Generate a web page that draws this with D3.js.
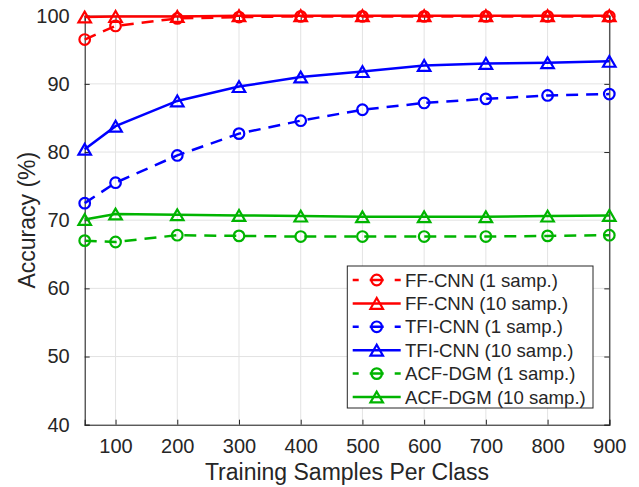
<!doctype html>
<html lang="en">
  <head>
    <meta charset="utf-8">
    <title>Accuracy vs training samples</title>
    <style>
      body { margin: 0; background: #fff; }
      text { font-family: "Liberation Sans", Arial, sans-serif; fill: #262626; }
    </style>
  </head>
  <body>
    <div id="chart"></div>

    <script src="https://d3js.org/d3.v7.min.js"></script>
    <script type="text/javascript">
      // data
      const samples = [50, 100, 200, 300, 400, 500, 600, 700, 800, 900];
      const ffcnn1  = [96.5, 98.5, 99.6, 99.8, 99.9, 99.9, 99.9, 99.9, 99.9, 99.9];
      const ffcnn10 = [99.8, 99.9, 99.9, 100, 100, 100, 100, 100, 100, 100];
      const tfi1    = [72.5, 75.5, 79.5, 82.7, 84.6, 86.2, 87.2, 87.8, 88.3, 88.5];
      const tfi10   = [80.4, 83.8, 87.5, 89.6, 91.0, 91.8, 92.7, 93.0, 93.1, 93.3];
      const acf1    = [67.0, 66.8, 67.8, 67.7, 67.6, 67.6, 67.6, 67.6, 67.7, 67.8];
      const acf10   = [70.1, 70.9, 70.8, 70.7, 70.6, 70.5, 70.5, 70.5, 70.6, 70.7];
      const xTicks = [100, 200, 300, 400, 500, 600, 700, 800, 900];
      const yTicks = [40, 50, 60, 70, 80, 90, 100];

      const series = [
        {name: 'FF-CNN (1 samp.)',   vals: ffcnn1,  color: '#ff0000', dashed: true,  mark: 'circle'},
        {name: 'FF-CNN (10 samp.)',  vals: ffcnn10, color: '#ff0000', dashed: false, mark: 'tri'},
        {name: 'TFI-CNN (1 samp.)',  vals: tfi1,    color: '#0000ff', dashed: true,  mark: 'circle'},
        {name: 'TFI-CNN (10 samp.)', vals: tfi10,   color: '#0000ff', dashed: false, mark: 'tri'},
        {name: 'ACF-DGM (1 samp.)',  vals: acf1,    color: '#00b400', dashed: true,  mark: 'circle'},
        {name: 'ACF-DGM (10 samp.)', vals: acf10,   color: '#00b400', dashed: false, mark: 'tri'}
      ];

      const w = 639;
      const h = 487;
      const pLeft = 84.7, pRight = 609.3, pTop = 15.7, pBottom = 424.7;

      const svg = d3.select('#chart')
                    .append('svg')
                    .attr('width', w)
                    .attr('height', h);

      const x = d3.scaleLinear().domain([50, 900]).range([pLeft, pRight]);
      const y = d3.scaleLinear().domain([40, 100]).range([pBottom, pTop]);

      // grid
      svg.append('g')
         .selectAll('line')
         .data(xTicks)
         .enter()
         .append('line')
         .attr('x1', d => x(d)).attr('x2', d => x(d))
         .attr('y1', pTop).attr('y2', pBottom)
         .attr('stroke', '#e3e3e3').attr('stroke-width', 1);

      svg.append('g')
         .selectAll('line')
         .data(yTicks)
         .enter()
         .append('line')
         .attr('x1', pLeft).attr('x2', pRight)
         .attr('y1', d => y(d)).attr('y2', d => y(d))
         .attr('stroke', '#e3e3e3').attr('stroke-width', 1);

      // axes, ticks pointing inward, box on
      const axisColor = '#262626';
      const tickLen = 5;

      const xAxis = svg.append('g')
         .attr('transform', `translate(0,${pBottom})`)
         .call(d3.axisBottom(x).tickValues(xTicks).tickSize(-tickLen).tickPadding(14));
      const xTop = svg.append('g')
         .attr('transform', `translate(0,${pTop})`)
         .call(d3.axisTop(x).tickValues(xTicks).tickSize(-tickLen).tickFormat(''));
      const yAxis = svg.append('g')
         .attr('transform', `translate(${pLeft},0)`)
         .call(d3.axisLeft(y).tickValues(yTicks).tickSize(-tickLen).tickPadding(15));
      const yRight = svg.append('g')
         .attr('transform', `translate(${pRight},0)`)
         .call(d3.axisRight(y).tickValues(yTicks).tickSize(-tickLen).tickFormat(''));

      [xAxis, xTop, yAxis, yRight].forEach(g => {
        g.select('.domain').attr('stroke', axisColor).attr('stroke-width', 1.1);
        g.selectAll('.tick line').attr('stroke', axisColor).attr('stroke-width', 1);
        g.selectAll('.tick text')
         .attr('font-size', 20)
         .attr('fill', axisColor)
         .style('font-family', '"Liberation Sans", Arial, sans-serif');
      });
      xAxis.selectAll('.tick text').attr('dy', '0.71em');

      // axis titles
      svg.append('text')
         .attr('x', (pLeft + pRight) / 2)
         .attr('y', 480)
         .attr('text-anchor', 'middle')
         .attr('font-size', 23)
         .text('Training Samples Per Class');

      svg.append('text')
         .attr('transform', `translate(34.5,${(pTop + pBottom) / 2}) rotate(-90)`)
         .attr('text-anchor', 'middle')
         .attr('font-size', 23)
         .text('Accuracy (%)');

      // marker helpers
      const triPath = (cx, cy) => {
        const s = 12.5, th = 10.8;
        return `M${cx},${cy - th / 2}L${cx - s / 2},${cy + th / 2}L${cx + s / 2},${cy + th / 2}Z`;
      };
      const drawMarker = (g, mark, cx, cy, color) => {
        if (mark === 'circle') {
          g.append('circle')
           .attr('cx', cx).attr('cy', cy).attr('r', 5.3)
           .attr('fill', 'none').attr('stroke', color).attr('stroke-width', 2.2);
        } else {
          g.append('path')
           .attr('d', triPath(cx, cy))
           .attr('fill', 'none').attr('stroke', color).attr('stroke-width', 2.2)
           .attr('stroke-linejoin', 'miter');
        }
      };

      const line = d3.line()
                     .x((d, i) => x(samples[i]))
                     .y(d => y(d));

      series.forEach(s => {
        const g = svg.append('g');
        g.append('path')
         .attr('d', line(s.vals))
         .attr('fill', 'none')
         .attr('stroke', s.color)
         .attr('stroke-width', 2.5)
         .attr('stroke-dasharray', s.dashed ? '12,8' : null);
        s.vals.forEach((v, i) => drawMarker(g, s.mark, x(samples[i]), y(v), s.color));
      });

      // legend
      const lgX = 347.3, lgY = 266, lgW = 245.7, lgH = 142;
      const lg = svg.append('g');
      lg.append('rect')
        .attr('x', lgX).attr('y', lgY)
        .attr('width', lgW).attr('height', lgH)
        .attr('fill', 'white')
        .attr('stroke', axisColor)
        .attr('stroke-width', 1);

      series.forEach((s, i) => {
        const ry = 280 + i * 23.4;
        lg.append('line')
          .attr('x1', 352.7).attr('x2', 400.7)
          .attr('y1', ry).attr('y2', ry)
          .attr('stroke', s.color)
          .attr('stroke-width', 2.5)
          .attr('stroke-dasharray', s.dashed ? '6,11,14,11,6' : null);
        drawMarker(lg, s.mark, 376.7, ry, s.color);
        lg.append('text')
          .attr('x', 405)
          .attr('y', ry)
          .attr('dy', '0.36em')
          .attr('font-size', 18.6)
          .text(s.name);
      });
    </script>
  </body>
</html>
